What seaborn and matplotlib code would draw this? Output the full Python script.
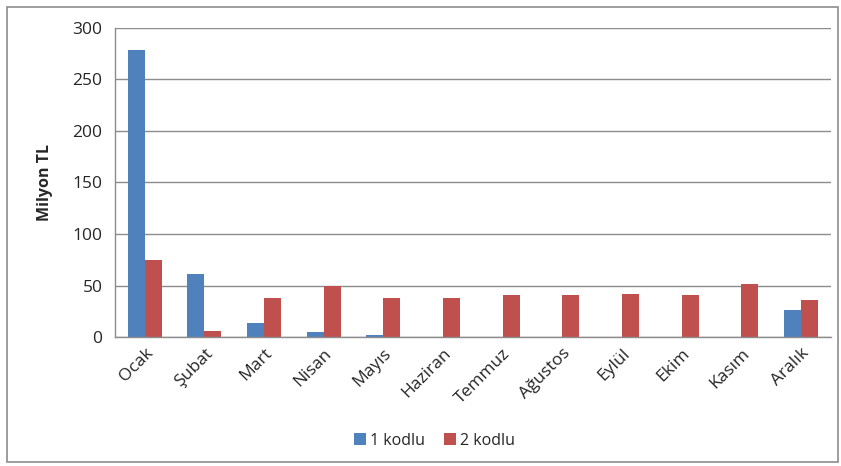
import pandas as pd
import matplotlib.pyplot as plt
import seaborn as sns
from matplotlib.patches import Rectangle

# Data (Milyon TL)
months = ["Ocak", "Şubat", "Mart", "Nisan", "Mayıs", "Haziran",
          "Temmuz", "Ağustos", "Eylül", "Ekim", "Kasım", "Aralık"]
kodlu_1 = [279, 61, 14, 5, 2, 0, 0, 0, 0, 0, 0, 26]
kodlu_2 = [75, 6, 38, 50, 38, 38, 41, 41, 42, 41, 51, 36]
series_names = ["1 kodlu", "2 kodlu"]
colors = ["#4F81BD", "#C0504D"]

df = pd.DataFrame({
    "Ay": months * 2,
    "Deger": kodlu_1 + kodlu_2,
    "Seri": [series_names[0]] * len(months) + [series_names[1]] * len(months),
})

sns.set_style("white")
plt.rcParams["font.family"] = ["Open Sans", "DejaVu Sans"]

fig = plt.figure(figsize=(8.41, 4.66), dpi=100)
ax = fig.add_axes([0.1367, 0.2768, 0.851, 0.6632])

sns.barplot(data=df, x="Ay", y="Deger", hue="Seri", palette=colors,
            width=0.57, gap=0, saturation=1, linewidth=0, ax=ax, legend=True)

ax.set_xlim(-0.5, len(months) - 0.5)
ax.set_ylim(0, 300)
ax.set_yticks(range(0, 301, 50))
ax.yaxis.grid(True, color="#8c8c8c", linewidth=1)
ax.set_axisbelow(True)

for side in ["top", "right"]:
    ax.spines[side].set_visible(False)
for side in ["left", "bottom"]:
    ax.spines[side].set_color("#8c8c8c")
    ax.spines[side].set_linewidth(1)

# ticks between categories like Excel
ax.set_xticks([i + 0.5 for i in range(-1, len(months))], minor=True)
ax.tick_params(axis="x", which="minor", length=6, color="#8c8c8c", width=1)
ax.tick_params(axis="x", which="major", length=0, pad=6)
ax.tick_params(axis="y", length=5, color="#8c8c8c", width=1, labelsize=12.5, pad=4)
ax.set_xticks(range(len(months)))
ax.set_xticklabels(months, rotation=45, ha="right", rotation_mode="anchor", fontsize=12.5)

ax.set_xlabel("")
ax.set_ylabel("Milyon TL", fontsize=11.5, fontweight="bold", labelpad=14)

ax.legend(loc="center", bbox_to_anchor=(0.447, -0.335), ncol=2, frameon=False,
          fontsize=11.5, handlelength=0.7, handleheight=0.7, handletextpad=0.3,
          columnspacing=1.2)

# outer border of the chart area
fig.patches.append(Rectangle((0.008, 0.008), 0.988, 0.978, transform=fig.transFigure,
                             fill=False, edgecolor="#8c8c8c", linewidth=1.2))

plt.savefig("out.png", dpi=100)
